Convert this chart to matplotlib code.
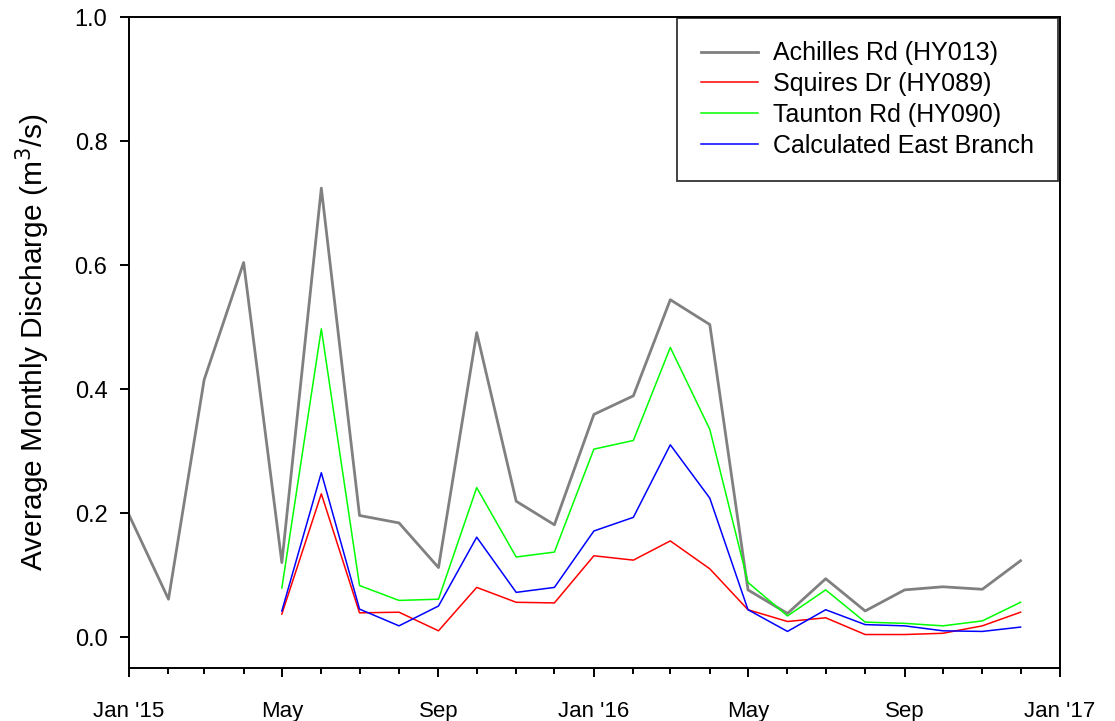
import matplotlib
matplotlib.use('Agg')
import matplotlib.pyplot as plt
import matplotlib.dates as mdates
import numpy as np
import pandas as pd

plt.rcParams['font.family'] = ['Liberation Sans', 'DejaVu Sans']

# Monthly averages, Jan 2015 - Dec 2016
months = pd.date_range('2015-01-01', '2016-12-01', freq='MS')
nan = np.nan

achilles = [0.197, 0.061, 0.415, 0.604, 0.120, 0.724, 0.196, 0.184, 0.112, 0.491, 0.219, 0.181,
            0.359, 0.389, 0.544, 0.504, 0.076, 0.038, 0.094, 0.042, 0.076, 0.081, 0.077, 0.123]
squires = [nan, nan, nan, nan, 0.037, 0.231, 0.039, 0.040, 0.010, 0.080, 0.056, 0.055,
           0.131, 0.124, 0.155, 0.110, 0.044, 0.025, 0.031, 0.004, 0.004, 0.006, 0.018, 0.040]
taunton = [nan, nan, nan, nan, 0.079, 0.497, 0.083, 0.059, 0.061, 0.241, 0.129, 0.137,
           0.303, 0.317, 0.467, 0.335, 0.088, 0.034, 0.076, 0.024, 0.022, 0.018, 0.026, 0.056]
east_branch = [nan, nan, nan, nan, 0.042, 0.265, 0.045, 0.018, 0.050, 0.161, 0.072, 0.080,
               0.171, 0.193, 0.310, 0.224, 0.044, 0.009, 0.044, 0.020, 0.018, 0.010, 0.009, 0.016]

fig = plt.figure(figsize=(11.15, 7.21), dpi=100)
ax = fig.add_axes([0.1157, 0.0735, 0.835, 0.9029])

ax.plot(months, achilles, color='#808080', lw=2.0, label='Achilles Rd (HY013)')
ax.plot(months, squires, color='#ff0000', lw=1.1, label='Squires Dr (HY089)')
ax.plot(months, taunton, color='#00ff00', lw=1.1, label='Taunton Rd (HY090)')
ax.plot(months, east_branch, color='#0000ff', lw=1.1, label='Calculated East Branch')

ax.set_xlim(pd.Timestamp('2015-01-01'), pd.Timestamp('2017-01-01'))
ax.set_ylim(-0.05, 1.0)
ax.set_yticks(np.arange(0, 1.01, 0.2))
ax.yaxis.set_major_formatter(matplotlib.ticker.FormatStrFormatter('%.1f'))

major = pd.date_range('2015-01-01', '2017-01-01', freq='4MS')
ax.set_xticks(major)
ax.set_xticklabels(["Jan '15", 'May', 'Sep', "Jan '16", 'May', 'Sep', "Jan '17"])
ax.xaxis.set_minor_locator(mdates.MonthLocator())

ax.tick_params(axis='both', which='major', direction='out', length=6.5, width=1.4,
               colors='black')
ax.tick_params(axis='x', which='major', labelsize=16, pad=17)
ax.tick_params(axis='y', which='major', labelsize=17, pad=9)
ax.tick_params(axis='x', which='minor', direction='out', length=4.5, width=1.4)
ax.tick_params(top=False, right=False)
for s in ax.spines.values():
    s.set_linewidth(1.4)

ax.set_ylabel('Average Monthly Discharge (m$^3$/s)', fontsize=21.5, labelpad=16)

leg = ax.legend(loc='upper right', fontsize=18, frameon=True, fancybox=False,
                borderpad=0.95, handlelength=2.3, handletextpad=0.6,
                labelspacing=0.27, borderaxespad=0.0,
                bbox_to_anchor=(0.998, 0.999))
leg.get_frame().set_edgecolor('black')
leg.get_frame().set_linewidth(1.3)

fig.savefig('out.png', dpi=100)
